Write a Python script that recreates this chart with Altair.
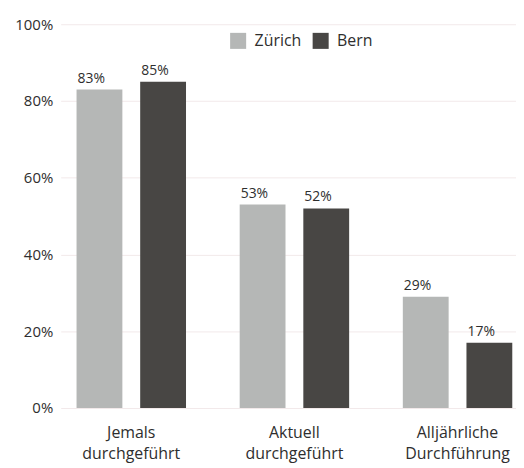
import altair as alt
import pandas as pd

categories = ["Jemals durchgeführt", "Aktuell durchgeführt", "Alljährliche Durchführung"]
cities = ["Zürich", "Bern"]
zurich = [83, 53, 29]
bern = [85, 52, 17]
colors = ["#b5b7b6", "#484644"]

rows = []
for i, c in enumerate(categories):
    rows.append({"cat": c, "city": "Zürich", "v": zurich[i] / 100})
    rows.append({"cat": c, "city": "Bern", "v": bern[i] / 100})
df = pd.DataFrame(rows)

FONT = "Open Sans"

x = alt.X("cat:N", sort=categories, title=None,
          scale=alt.Scale(paddingInner=0.329, paddingOuter=0.06, align=0.81),
          axis=alt.Axis(labelAngle=0, labelExpr="split(datum.label, ' ')",
                        labelFontSize=16, labelColor="#2e2e2e", labelFont=FONT,
                        labelPadding=25, labelLineHeight=21, ticks=False, domain=False,
                        labelBaseline="middle"))
xo = alt.XOffset("city:N", sort=cities,
                 scale=alt.Scale(paddingInner=0.28, paddingOuter=0))
y = alt.Y("v:Q", title=None,
          scale=alt.Scale(domain=[0, 1]),
          axis=alt.Axis(format="%", values=[0, 0.2, 0.4, 0.6, 0.8, 1.0],
                        labelFontSize=15, labelColor="#2e2e2e", labelFont=FONT,
                        labelPadding=8, ticks=False, domain=False,
                        gridColor="#f2e9ea", gridWidth=1))

bars = alt.Chart(df).mark_bar().encode(
    x=x, xOffset=xo, y=y,
    color=alt.Color("city:N", sort=cities,
                    scale=alt.Scale(domain=cities, range=colors),
                    legend=alt.Legend(title=None, orient="none", legendX=170, legendY=8,
                                      direction="horizontal", symbolType="square",
                                      symbolSize=260, symbolStrokeWidth=0,
                                      labelFontSize=16, labelFont=FONT,
                                      labelColor="#2e2e2e", columnPadding=10,
                                      labelOffset=8)),
)

labels = alt.Chart(df).mark_text(align="left", baseline="bottom", dx=-22, dy=-4,
                                 fontSize=14, font=FONT, color="#2e2e2e").encode(
    x=x, xOffset=xo, y=y,
    text=alt.Text("v:Q", format=".0%"),
)

chart = (bars + labels).properties(
    width=458, height=386,
    padding={"left": 6, "top": 8, "right": 0, "bottom": 0},
).configure_view(stroke=None)

chart.save("out.html", embed_options={"renderer": "svg", "actions": False})
